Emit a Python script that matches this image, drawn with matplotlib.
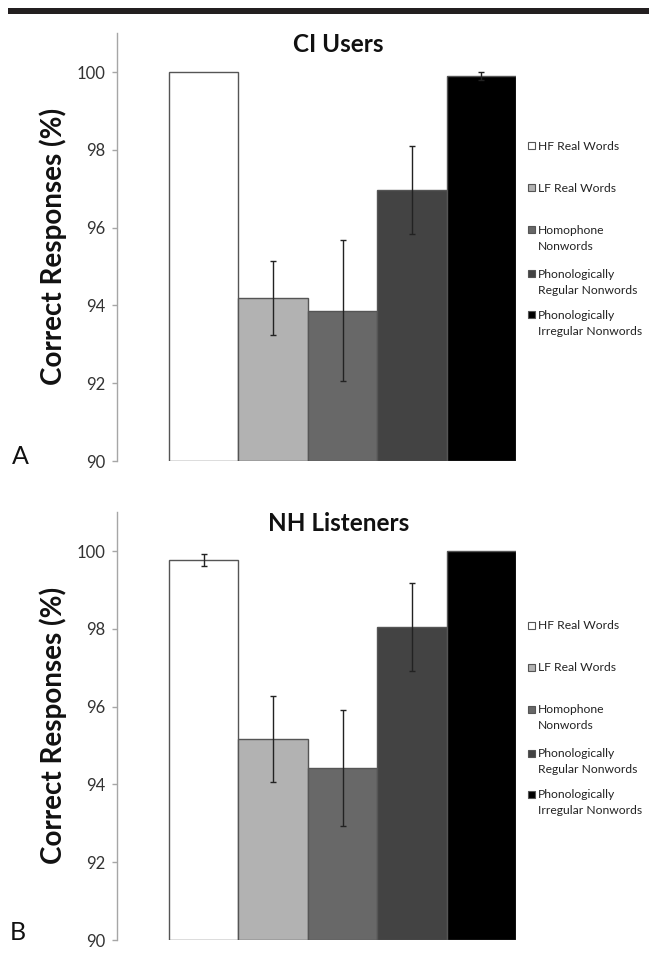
import matplotlib
matplotlib.use("Agg")
import matplotlib.pyplot as plt
from matplotlib.patches import Rectangle
import numpy as np

plt.rcParams['font.family'] = ['Lato', 'DejaVu Sans']

categories = ["HF Real Words", "LF Real Words", "Homophone\nNonwords",
              "Phonologically\nRegular Nonwords", "Phonologically\nIrregular Nonwords"]
colors = ["#ffffff", "#b2b2b2", "#686868", "#434343", "#000000"]

ci_values = [100.0, 94.19, 93.86, 96.97, 99.90]
ci_errors = [0.0, 0.95, 1.81, 1.13, 0.10]
nh_values = [99.77, 95.17, 94.42, 98.05, 100.0]
nh_errors = [0.16, 1.10, 1.50, 1.13, 0.0]

yticks = [90, 92, 94, 96, 98, 100]
titles = ["CI Users", "NH Listeners"]
panel_letters = ["A", "B"]
ylabel = "Correct Responses (%)"

W, H = 649, 955
fig = plt.figure(figsize=(W / 100, H / 100), dpi=100)

# top black rule
fig.add_artist(Rectangle((8 / W, 1 - 14 / H), (W - 8) / W, 6 / H,
                         transform=fig.transFigure, color="#231f20", lw=0))

panels = [(ci_values, ci_errors), (nh_values, nh_errors)]
offsets = [0, 479]
x = np.arange(len(categories))

for i, (vals, errs) in enumerate(panels):
    off = offsets[i]
    top_px = 33 + off
    bot_px = 461 + off
    ax = fig.add_axes([117 / W, 1 - bot_px / H, 399 / W, (bot_px - top_px) / H])
    ax.bar(x, np.array(vals) - 90, bottom=90, width=1.0, color=colors,
           edgecolor="#555555", linewidth=1.0, zorder=2)
    for xi, v, e in zip(x, vals, errs):
        if e > 0:
            ax.errorbar(xi, v, yerr=e, fmt='none', ecolor="#222222",
                        elinewidth=1.0, capsize=2.5, capthick=1.0, zorder=3)
    ax.set_xlim(-1.25, 4.5)
    ax.set_ylim(90, 90 + (bot_px - top_px) / 38.9)
    ax.set_yticks(yticks)
    ax.set_yticklabels([str(t) for t in yticks], fontsize=12, color="#333333")
    ax.tick_params(axis='y', direction='out', length=3.6, width=1,
                   color="#a6a6a6", pad=5)
    ax.set_xticks([])
    for s in ["top", "right", "bottom"]:
        ax.spines[s].set_visible(False)
    ax.spines["left"].set_color("#a6a6a6")
    ax.spines["left"].set_linewidth(1)
    ax.patch.set_alpha(0)

    fig.text(338.5 / W, 1 - (52 + off) / H, titles[i], ha='center',
             va='baseline', fontsize=17.5, fontweight='bold', color="#111111")
    fig.text(53 / W, 1 - (246 + off) / H, ylabel, rotation=90, ha='center',
             va='center', fontsize=20, fontweight='bold', color="#111111")
    fig.text((12 - 2 * i) / W, 1 - (464 + off - 3 * i) / H, panel_letters[i],
             ha='left', va='baseline', fontsize=18, color="#111111")

    # legend
    leg_y = [146, 188, 230, 274, 315]
    for j, (lab, c) in enumerate(zip(categories, colors)):
        yc = leg_y[j] + off
        fig.add_artist(Rectangle((528 / W, 1 - (yc + 3.5) / H), 7 / W, 7 / H,
                                 transform=fig.transFigure, facecolor=c,
                                 edgecolor="#555555", lw=0.8))
        for k, ln in enumerate(lab.split("\n")):
            fig.text(537.5 / W, 1 - (yc + 4 + 16 * k) / H, ln, ha='left',
                     va='baseline', fontsize=8.7, color="#222222")

fig.savefig("out.png", dpi=100)
